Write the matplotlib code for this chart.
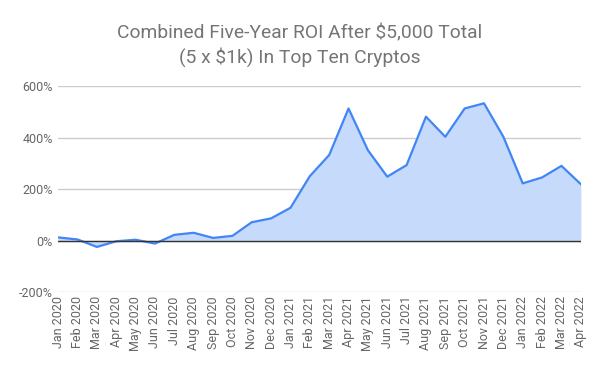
import matplotlib
matplotlib.use("Agg")
import matplotlib.pyplot as plt
from matplotlib.ticker import FuncFormatter

plt.rcParams["font.family"] = ["Roboto", "DejaVu Sans"]

months = ["Jan 2020", "Feb 2020", "Mar 2020", "Apr 2020", "May 2020", "Jun 2020",
          "Jul 2020", "Aug 2020", "Sep 2020", "Oct 2020", "Nov 2020", "Dec 2020",
          "Jan 2021", "Feb 2021", "Mar 2021", "Apr 2021", "May 2021", "Jun 2021",
          "Jul 2021", "Aug 2021", "Sep 2021", "Oct 2021", "Nov 2021", "Dec 2021",
          "Jan 2022", "Feb 2022", "Mar 2022", "Apr 2022"]
roi = [12, 4, -25, -3, 3, -12,
       22, 30, 10, 18, 71, 86,
       127, 250, 332, 513, 351, 248,
       293, 481, 403, 513, 533, 403,
       222, 245, 290, 219]

x = list(range(len(months)))

fig = plt.figure(figsize=(6, 3.71), dpi=100)
ax = fig.add_axes([0.097, 0.213, 0.871, 0.555])

ax.fill_between(x, roi, 0, color="#c6dafc", linewidth=0)
ax.plot(x, roi, color="#4285f4", linewidth=1.6)
ax.axhline(0, color="#333333", linewidth=1)

ax.set_xlim(0, len(months) - 1)
ax.set_ylim(-200, 600)
ax.set_yticks([-200, 0, 200, 400, 600])
ax.yaxis.set_major_formatter(FuncFormatter(lambda v, p: f"{v:.0f}%"))
ax.grid(axis="y", color="#cccccc", linewidth=1)
ax.set_axisbelow(True)

ax.set_xticks(x)
ax.set_xticklabels(months, rotation=90)
ax.tick_params(axis="both", length=0, labelsize=9, colors="#666666", pad=4)
ax.tick_params(axis="x", pad=3)
for s in ax.spines.values():
    s.set_visible(False)

fig.suptitle("Combined Five-Year ROI After $5,000 Total\n(5 x $1k) In Top Ten Cryptos",
             y=0.935, fontsize=13.9, color="#757575", linespacing=1.3)

fig.savefig("out.png", dpi=100)
